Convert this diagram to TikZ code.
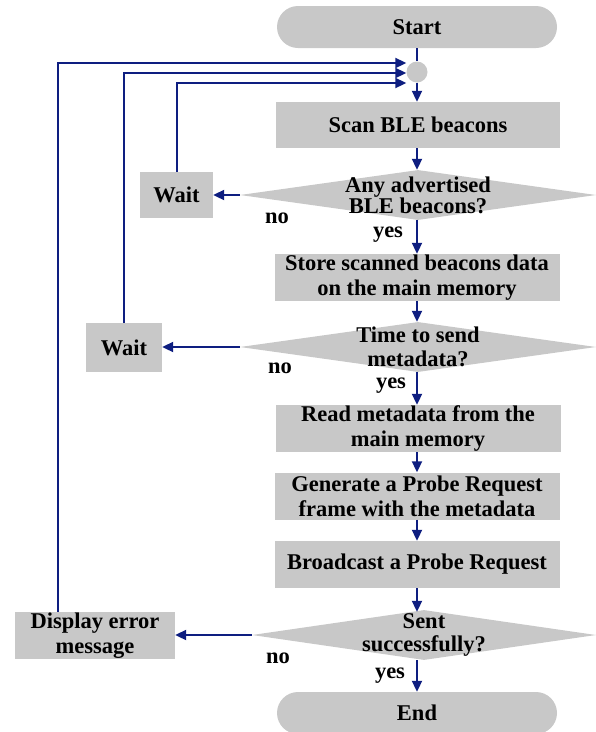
\documentclass[tikz,border=0pt]{standalone}
\usepackage{fontspec}
\setmainfont{Liberation Serif}
\usetikzlibrary{arrows.meta,shapes.geometric,calc}
\definecolor{boxgray}{RGB}{200,200,200}
\definecolor{flowblue}{RGB}{14,30,128}
\begin{document}
\begin{tikzpicture}[x=1pt,y=-1pt,
  txt/.style={font=\fontsize{22.5}{25}\selectfont\bfseries, align=center},
  procbox/.style={txt, rectangle, fill=boxgray, inner sep=0pt, minimum width=285pt, minimum height=47pt},
  terminal/.style={txt, rectangle, fill=boxgray, rounded corners=21pt, inner sep=0pt, minimum width=280pt, minimum height=42pt},
  decision/.style={diamond, fill=boxgray, inner sep=0pt, minimum height=50pt},
  question/.style={font=\fontsize{22.5}{#1}\selectfont\bfseries, align=center},
  answer/.style={txt, inner sep=0pt},
  arr/.style={draw=flowblue, line width=2pt, -{Triangle[length=11pt,width=10pt]}},
  link/.style={draw=flowblue, line width=2pt}
]
\useasboundingbox (0,0) rectangle (596,732);

% main column
\node[terminal] (start) at (417,27) {Start};
\node[circle, fill=boxgray, minimum size=21pt, inner sep=0pt] (j) at (417,72) {};
\node[procbox, minimum width=284pt, minimum height=46pt] (scan) at (418,125) {Scan BLE beacons};
\node[decision, minimum width=356pt, label={[question=21]center:Any advertised\\BLE beacons?}] (d1) at (418,195) {};
\node[procbox] (store) at (417,277.5) {Store scanned beacons data\\on the main memory};
\node[decision, minimum width=356pt, label={[question=24]center:Time to send\\metadata?}] (d2) at (418,347) {};
\node[procbox] (read) at (418,428.5) {Read metadata from the\\main memory};
\node[procbox] (gen) at (417,496) {Generate a Probe Request\\frame with the metadata};
\node[procbox] (bc) at (417,564.5) {Broadcast a Probe Request};
\node[decision, minimum width=344pt, label={[question=23]center:Sent\\successfully?}] (d3) at (424,635) {};
\node[terminal] (endn) at (417,713) {End};

% side boxes
\node[procbox, minimum width=73pt, minimum height=46pt] (wait1) at (176.5,195) {Wait};
\node[procbox, minimum width=76pt, minimum height=49pt] (wait2) at (124,347.5) {Wait};
\node[procbox, minimum width=160pt, minimum height=47pt] (err) at (95,635.5) {Display error\\message};

% branch labels
\node[answer] (no1) at (277,218) {no};
\node[answer] (yes1) at (388,235) {yes};
\node[answer] (no2) at (280,368) {no};
\node[answer] (yes2) at (391,386) {yes};
\node[answer] (no3) at (278,658) {no};
\node[answer] (yes3) at (390,676) {yes};

% downward flow
\draw[link] (start.south) -- (j.north);
\draw[arr] (j.south) -- (j.south |- scan.north);
\draw[arr] (scan.south -| j.south) -- (j.south |- d1.north);
\draw[arr] (d1.south -| j.south) -- (j.south |- store.north);
\draw[arr] (store.south) -- (store.south |- d2.north);
\draw[arr] (d2.south -| store.south) -- (store.south |- read.north);
\draw[arr] (read.south -| gen.north) -- (gen.north);
\draw[arr] (gen.south) -- (bc.north);
\draw[arr] (bc.south) -- ($(bc.south |- d3.north)+(0,2)$);
\draw[arr] (endn.north |- d3.south) -- (endn.north);

% "no" branches
\draw[arr] (d1.west) -- (d1.west -| wait1.east);
\draw[arr] (d2.west) -- (d2.west -| wait2.east);
\draw[arr] (d3.west) -- (d3.west -| err.east);

% loops back to the junction
\draw[arr] ([xshift=-37pt]err.north) |- ($(j.west)+(0,-9)$);
\draw[arr] (wait2.north) |- ($(j.west)+(0,1)$);
\draw[arr] (wait1.north) |- ($(j.west)+(0,11)$);
\end{tikzpicture}
\end{document}
